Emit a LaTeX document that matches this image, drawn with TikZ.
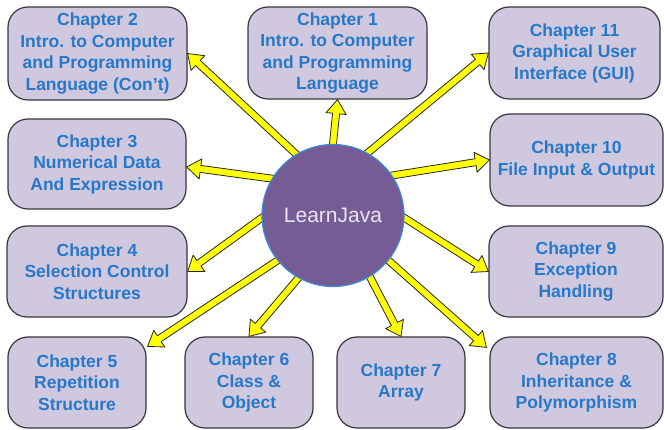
\documentclass[tikz,border=0pt]{standalone}
\usepackage{fontspec}
\setsansfont{Liberation Sans}
\usetikzlibrary{calc}
\pgfdeclarelayer{front}
\pgfsetlayers{main,front}
\definecolor{boxfill}{RGB}{208,200,223}
\definecolor{boxline}{RGB}{55,55,60}
\definecolor{txtblue}{RGB}{38,120,200}
\definecolor{circfill}{RGB}{118,92,148}
\definecolor{circline}{RGB}{60,140,215}
\definecolor{arrfill}{RGB}{255,255,0}
\definecolor{javatxt}{RGB}{232,228,242}
\tikzset{
  chbox/.style={draw=boxline, line width=1.2pt, fill=boxfill, rounded corners=20pt,
    align=center, inner sep=0pt, text=txtblue,
    font=\sffamily\bfseries\fontsize{17.5}{21.5}\selectfont},
  hub/.style={circle, draw=circline, line width=1.2pt, fill=circfill, minimum size=142pt,
    inner sep=0pt, text=javatxt, font=\sffamily\fontsize{21}{24}\selectfont},
  fatarrowstyle/.style={draw=black!85, line width=0.8pt, fill=arrfill, line join=miter}
}
\newcommand\fatarrow[2]{%
  \coordinate (fa-t) at (#2);
  \coordinate (fa-s) at ($(#1)!-8pt!(fa-t)$);
  \coordinate (fa-b) at ($(fa-t)!14pt!(fa-s)$);
  \draw[fatarrowstyle] ($(fa-s)!3.5pt!90:(fa-t)$) -- ($(fa-b)!3.5pt!90:(fa-t)$)
    -- ($(fa-b)!10pt!90:(fa-t)$) -- (fa-t) -- ($(fa-b)!10pt!-90:(fa-t)$)
    -- ($(fa-b)!3.5pt!-90:(fa-t)$) -- ($(fa-s)!3.5pt!-90:(fa-t)$) -- cycle;
}
\begin{document}
\begin{tikzpicture}[x=1pt,y=-1pt]
\useasboundingbox (0,0) rectangle (664,430);
\node[chbox, minimum width=179pt, minimum height=93pt] (ch2) at (97.5,53.5)
  {Chapter 2\\Intro. to Computer\\and Programming\\Language (Con’t)};
\node[chbox, minimum width=179pt, minimum height=92pt] (ch1) at (337.5,53)
  {Chapter 1\\Intro. to Computer\\and Programming\\Language};
\node[chbox, minimum width=171pt, minimum height=92pt] (ch11) at (574.5,53)
  {Chapter 11\\Graphical User\\Interface (GUI)};
\node[chbox, minimum width=178pt, minimum height=90pt] (ch3) at (97,164)
  {Chapter 3\\Numerical Data\\And Expression};
\node[chbox, minimum width=173pt, minimum height=92pt] (ch10) at (576.5,160)
  {Chapter 10\\File Input \& Output};
\node[chbox, minimum width=180pt, minimum height=91pt] (ch4) at (97,271.5)
  {Chapter 4\\Selection Control\\Structures};
\node[chbox, minimum width=174pt, minimum height=91pt] (ch9) at (576,271.5)
  {Chapter 9\\Exception\\Handling};
\node[chbox, minimum width=138pt, minimum height=91pt] (ch5) at (77,382.5)
  {Chapter 5\\Repetition\\Structure};
\node[chbox, minimum width=128pt, minimum height=91pt] (ch6) at (249,382.5)
  {Chapter 6\\Class \&\\Object};
\node[chbox, minimum width=128pt, minimum height=91pt] (ch7) at (401,382.5)
  {Chapter 7\\Array};
\node[chbox, minimum width=173pt, minimum height=91pt] (ch8) at (576.5,382.5)
  {Chapter 8\\Inheritance \&\\Polymorphism};
\begin{pgfonlayer}{front}
\node[hub] (c) at (333,215.5) {LearnJava};
\end{pgfonlayer}
\coordinate (t1) at ($(ch1.south)+(0,0)$);
\coordinate (t3) at ($(ch3.east)+(0,3)$);
\coordinate (t5) at ($(ch5.north east)+(1,10)$);
\coordinate (t8) at ($(ch8.north west)+(-3,11)$);
\fatarrow{c.121}{ch2.east}
\fatarrow{c.90}{t1}
\fatarrow{c.61}{ch11.west}
\fatarrow{c.149}{t3}
\fatarrow{c.34}{ch10.west}
\fatarrow{c.182}{ch4.east}
\fatarrow{c.-2}{ch9.west}
\fatarrow{c.219}{t5}
\fatarrow{c.241}{ch6.north}
\fatarrow{c.301}{ch7.north}
\fatarrow{c.321}{t8}
\end{tikzpicture}
\end{document}
